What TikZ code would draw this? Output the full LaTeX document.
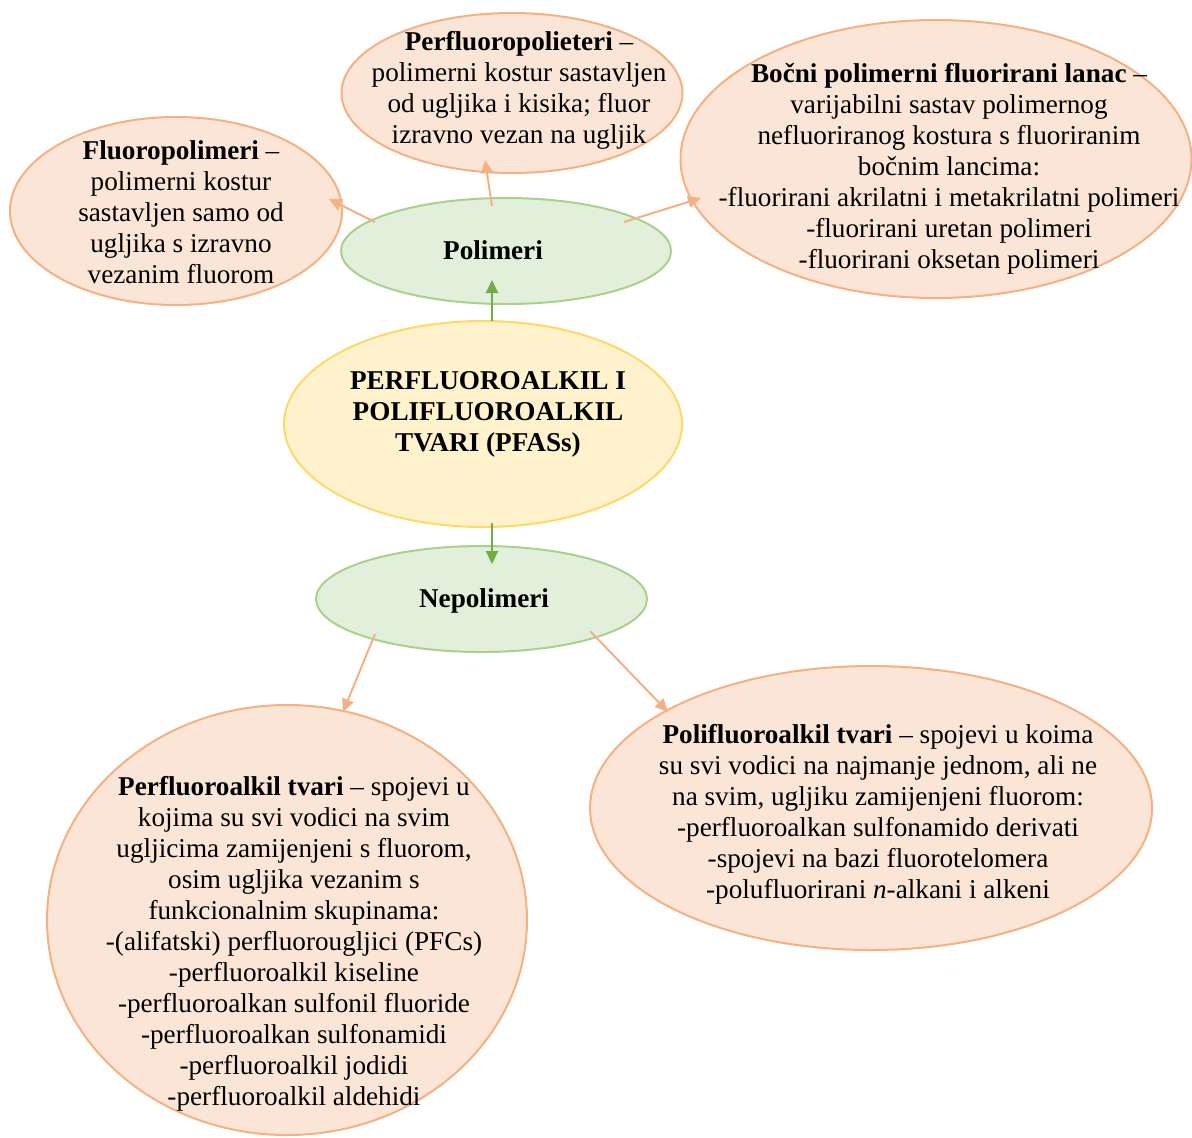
\documentclass[tikz,border=0pt]{standalone}
\usepackage{fontspec}
\setmainfont{Liberation Serif}
\usetikzlibrary{shapes.geometric,arrows.meta}
\definecolor{ofill}{HTML}{FBE5D6}
\definecolor{odraw}{HTML}{F4B183}
\definecolor{gfill}{HTML}{E2EFDA}
\definecolor{gdraw}{HTML}{A9D18E}
\definecolor{garrow}{HTML}{70AD47}
\definecolor{yfill}{HTML}{FFF2CC}
\definecolor{ydraw}{HTML}{FFD966}
\begin{document}
\begin{tikzpicture}[x=0.5pt,y=-0.5pt,
  ell/.style={ellipse, inner sep=0pt, line width=1pt},
  oell/.style={ell, fill=ofill, draw=odraw},
  gell/.style={ell, fill=gfill, draw=gdraw},
  yell/.style={ell, fill=yfill, draw=ydraw},
  txt/.style={align=center, inner sep=0pt, font=\fontsize{13.6}{15.5}\selectfont},
  oarr/.style={draw=odraw, line width=1pt, -{Triangle[length=6.5pt,width=6pt]}},
  garr/.style={draw=garrow, line width=1pt, -{Triangle[length=6.5pt,width=6pt]}}
]
\useasboundingbox (0,0) rectangle (1192,1137);
\clip (0,0) rectangle (1192,1137);

% ellipses
\node[oell, minimum width=166pt, minimum height=94pt] (fluo) at (176,211) {};
\node[oell, minimum width=170.5pt, minimum height=80pt] (perf) at (512,93) {};
\node[oell, minimum width=255.5pt, minimum height=139pt] (boc) at (936,159) {};
\node[gell, minimum width=165pt, minimum height=53pt] (pol) at (506,251) {};
\node[yell, minimum width=199pt, minimum height=103pt] (pfas) at (483,424) {};
\node[gell, minimum width=165.5pt, minimum height=53pt] (nep) at (481.5,599) {};
\node[oell, minimum width=240pt, minimum height=215pt] (pfa) at (287,920) {};
\node[oell, minimum width=281pt, minimum height=142pt] (pfl) at (871,808) {};

% connector end points
\coordinate (gu-s) at (492,321);
\coordinate (gu-e) at (492,280);
\coordinate (gd-s) at (492,523);
\coordinate (gd-e) at (492,564);
\coordinate (pf-s) at (375,222);
\coordinate (pf-e) at (329,199);
\coordinate (pp-s) at (492,206);
\coordinate (pp-e) at (485,160);
\coordinate (pb-s) at (624,222);
\coordinate (pb-e) at (701,198);
\coordinate (na-s) at (375,634);
\coordinate (na-e) at (343,712);
\coordinate (nl-s) at (590,631);
\coordinate (nl-e) at (668,712);

% connectors
\draw[garr] (gu-s) -- (gu-e);
\draw[garr] (gd-s) -- (gd-e);
\draw[oarr] (pf-s) -- (pf-e);
\draw[oarr] (pp-s) -- (pp-e);
\draw[oarr] (pb-s) -- (pb-e);
\draw[oarr] (na-s) -- (na-e);
\draw[oarr] (nl-s) -- (nl-e);

% texts
\node[txt] (fluo-t) at (181,212) {\textbf{Fluoropolimeri} –\\polimerni kostur\\sastavljen samo od\\ugljika s izravno\\vezanim fluorom};
\node[txt] (perf-t) at (519,90) {\textbf{Perfluoropolieteri} –\\polimerni kostur sastavljen\\od ugljika i kisika; fluor\\izravno vezan na ugljik};
\node[txt] (boc-t) at (949,169) {\textbf{Bočni polimerni fluorirani lanac} –\\varijabilni sastav polimernog\\nefluoriranog kostura s fluoriranim\\bočnim lancima:\\-fluorirani akrilatni i metakrilatni polimeri\\-fluorirani uretan polimeri\\-fluorirani oksetan polimeri};
\node[txt] (pol-t) at (493,250) {\textbf{Polimeri}};
\node[txt] (pfas-t) at (488,414) {\textbf{PERFLUOROALKIL I}\\\textbf{POLIFLUOROALKIL}\\\textbf{TVARI (PFASs)}};
\node[txt] (nep-t) at (484,601) {\textbf{Nepolimeri}};
\node[txt] (pfa-t) at (294,944) {\textbf{Perfluoroalkil tvari} – spojevi u\\kojima su svi vodici na svim\\ugljicima zamijenjeni s fluorom,\\osim ugljika vezanim s\\funkcionalnim skupinama:\\-(alifatski) perfluorougljici (PFCs)\\-perfluoroalkil kiseline\\-perfluoroalkan sulfonil fluoride\\-perfluoroalkan sulfonamidi\\-perfluoroalkil jodidi\\-perfluoroalkil aldehidi};
\node[txt] (pfl-t) at (878,814) {\textbf{Polifluoroalkil tvari} – spojevi u koima\\su svi vodici na najmanje jednom, ali ne\\na svim, ugljiku zamijenjeni fluorom:\\-perfluoroalkan sulfonamido derivati\\-spojevi na bazi fluorotelomera\\-polufluorirani \textit{n}-alkani i alkeni};
\end{tikzpicture}
\end{document}
